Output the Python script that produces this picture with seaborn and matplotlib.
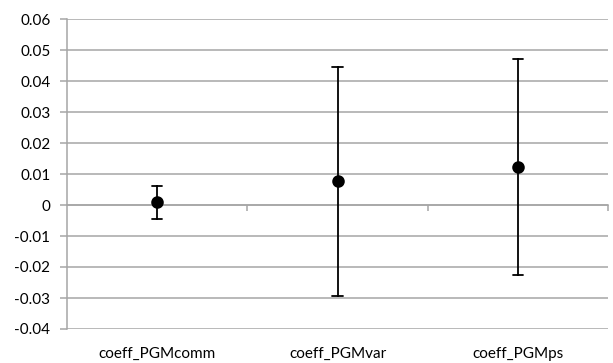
import numpy as np
import pandas as pd
import matplotlib
matplotlib.use("Agg")
import matplotlib.pyplot as plt
import seaborn as sns

categories = ["coeff_PGMcomm", "coeff_PGMvar", "coeff_PGMps"]
estimates = [0.0010, 0.0077, 0.0123]
lower = [-0.0044, -0.0293, -0.0225]
upper = [0.0061, 0.0444, 0.0472]
ytick_values = [-0.04, -0.03, -0.02, -0.01, 0.0, 0.01, 0.02, 0.03, 0.04, 0.05, 0.06]
ytick_labels = ["-0.04", "-0.03", "-0.02", "-0.01", "0", "0.01", "0.02", "0.03", "0.04", "0.05", "0.06"]

# long table: low / estimate / high per category; median -> estimate, 100% interval -> low..high
rows = []
for c, lo, m, hi in zip(categories, lower, estimates, upper):
    for v in (lo, m, hi):
        rows.append({"coef": c, "value": v})
df = pd.DataFrame(rows)

sns.set_theme(style="white")
plt.rcParams["font.family"] = ["Lato", "DejaVu Sans"]

GRID = "#a6a6a6"
FS = 11
fig = plt.figure(figsize=(6.13, 3.63), dpi=100)
ax = fig.add_axes([67 / 613, 1 - 329 / 363, (608 - 67) / 613, (329 - 19) / 363])

sns.pointplot(data=df, x="coef", y="value", estimator="median", errorbar=("pi", 100),
              linestyle="none", color="black", capsize=0.056, markersize=7,
              err_kws={"linewidth": 1.3}, ax=ax, zorder=5)

ax.set_xlim(-0.5, 2.5)
ax.set_ylim(-0.04, 0.06)
ax.set_yticks(ytick_values)
ax.set_yticklabels(ytick_labels)
ax.set_xlabel("")
ax.set_ylabel("")
ax.yaxis.grid(True, color=GRID, linewidth=1.1)
ax.set_axisbelow(True)

for s in ["top", "right", "bottom"]:
    ax.spines[s].set_visible(False)
ax.spines["left"].set_color(GRID)
ax.spines["left"].set_linewidth(1.1)

ax.tick_params(axis="y", direction="out", length=5, width=1.1, color=GRID,
               labelsize=FS, labelcolor="black", pad=7, left=True)
ax.tick_params(axis="x", length=0, labelsize=FS, labelcolor="black", pad=13)

# horizontal category axis crossing at zero, with boundary tick marks
zero_frac = (0 - ax.get_ylim()[0]) / (ax.get_ylim()[1] - ax.get_ylim()[0])
sec = ax.secondary_xaxis(zero_frac)
sec.set_xticks([0.5, 1.5, 2.5])
sec.set_xticklabels([])
sec.spines["bottom"].set_color(GRID)
sec.spines["bottom"].set_linewidth(1.1)
sec.tick_params(direction="out", length=4, width=1.1, color=GRID)

fig.savefig("out.png", dpi=100)
